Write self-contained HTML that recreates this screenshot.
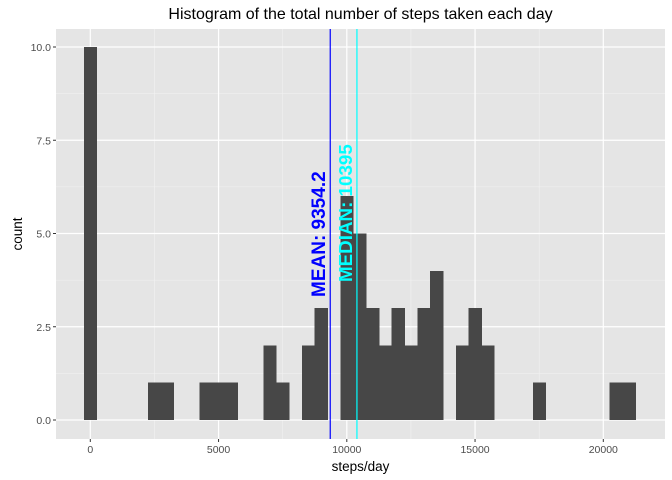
<!DOCTYPE html>
<html><head><meta charset="utf-8"><style>
body{margin:0;background:#fff}
svg{display:block;font-family:"Liberation Sans",sans-serif}
</style></head><body>
<svg width="672" height="480">
<g id="g"></g>
</svg>
<script>
const binCenters=[0,2500,3000,4500,5000,5500,7000,7500,8500,9000,10000,10500,11000,11500,12000,12500,13000,13500,14500,15000,15500,17500,20500,21000];
const counts=[10,1,1,1,1,1,2,1,2,3,6,5,3,2,3,2,3,4,2,3,2,1,1,1];
const binWidth=500;
const xTicks=[0,5000,10000,15000,20000];
const yTicks=[0,2.5,5,7.5,10];
const yTickLabels=["0.0","2.5","5.0","7.5","10.0"];
const meanVal=9354.2, medianVal=10395;
const P={l:56,r:665,t:29,b:439};
const x=v=>90.3+v*0.02565;
const y=v=>420-v*37.3;
const NS="http://www.w3.org/2000/svg";
const g=document.getElementById('g');
function mk(t,a,p){const e=document.createElementNS(NS,t);for(const k in a)e.setAttribute(k,a[k]);(p||g).appendChild(e);return e;}
let e=mk('rect',{x:P.l,y:P.t,width:P.r-P.l,height:P.b-P.t,fill:'#e5e5e5'});


for(let i=0;i<xTicks.length-1;i++){const m=(xTicks[i]+xTicks[i+1])/2;mk('line',{x1:x(m),x2:x(m),y1:P.t,y2:P.b,stroke:'#f2f2f2','stroke-width':0.6});}
for(let i=0;i<yTicks.length-1;i++){const m=(yTicks[i]+yTicks[i+1])/2;mk('line',{x1:P.l,x2:P.r,y1:y(m),y2:y(m),stroke:'#f2f2f2','stroke-width':0.6});}
xTicks.forEach(v=>{mk('line',{x1:x(v),x2:x(v),y1:P.t,y2:P.b,stroke:'#fff','stroke-width':1.2});
mk('line',{x1:x(v),x2:x(v),y1:P.b,y2:P.b+3,stroke:'#333','stroke-width':1});
const t=mk('text',{x:x(v),y:P.b+14,'text-anchor':'middle','font-size':10.5,fill:'#4d4d4d'});t.textContent=v;

});
yTicks.forEach((v,i)=>{mk('line',{x1:P.l,x2:P.r,y1:y(v),y2:y(v),stroke:'#fff','stroke-width':1.2});
mk('line',{x1:P.l-3,x2:P.l,y1:y(v),y2:y(v),stroke:'#333','stroke-width':1});
const t=mk('text',{x:P.l-5,y:y(v)+4,'text-anchor':'end','font-size':10.5,fill:'#4d4d4d'});t.textContent=yTickLabels[i];

});
binCenters.forEach((c,i)=>{const b=mk('rect',{x:x(c-binWidth/2),y:y(counts[i]),width:x(c+binWidth/2)-x(c-binWidth/2)+0.4,height:y(0)-y(counts[i]),fill:'#474747','shape-rendering':'crispEdges'});

});
let l=mk('line',{x1:x(meanVal),x2:x(meanVal),y1:P.t,y2:P.b,stroke:'blue','stroke-width':1.2});


l=mk('line',{x1:x(medianVal),x2:x(medianVal),y1:P.t,y2:P.b,stroke:'cyan','stroke-width':1.2});


let t=mk('text',{transform:`translate(${x(meanVal)-5},297) rotate(-90)`,'font-size':19,'font-weight':'bold',fill:'blue'});t.textContent='MEAN: 9354.2';


t=mk('text',{transform:`translate(${x(medianVal)-5},282) rotate(-90)`,'font-size':18.8,'font-weight':'bold',fill:'cyan'});t.textContent='MEDIAN: 10395';


t=mk('text',{x:(P.l+P.r)/2,y:19,'text-anchor':'middle','font-size':16,fill:'#000'});t.textContent='Histogram of the total number of steps taken each day';


t=mk('text',{x:(P.l+P.r)/2,y:471,'text-anchor':'middle','font-size':13.5,fill:'#000'});t.textContent='steps/day';


t=mk('text',{transform:`translate(22,${(P.t+P.b)/2}) rotate(-90)`,'text-anchor':'middle','font-size':13.5,fill:'#000'});t.textContent='count';


</script>
</body></html>
